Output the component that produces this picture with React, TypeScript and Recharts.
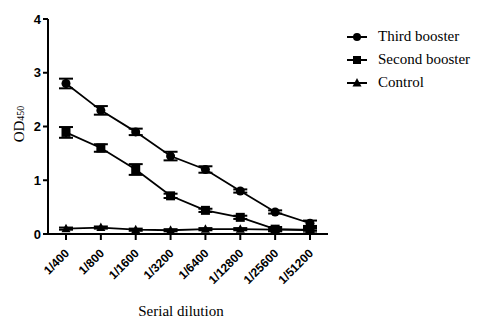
import { LineChart, Line, XAxis, YAxis, ErrorBar, Label } from "recharts"

// values
const dilutions = ["1/400", "1/800", "1/1600", "1/3200", "1/6400", "1/12800", "1/25600", "1/51200"]
const thirdBooster = [2.8, 2.3, 1.9, 1.45, 1.2, 0.8, 0.41, 0.2]
const thirdErr = [0.09, 0.08, 0.06, 0.08, 0.06, 0.03, 0.03, 0.05]
const secondBooster = [1.89, 1.6, 1.2, 0.71, 0.44, 0.31, 0.09, 0.07]
const secondErr = [0.1, 0.07, 0.1, 0.04, 0.03, 0.03, 0.04, 0.06]
const control = [0.1, 0.12, 0.08, 0.07, 0.09, 0.09, 0.08, 0.08]
const controlErr = [0.02, 0.02, 0.02, 0.02, 0.02, 0.02, 0.02, 0.02]
const yTicks = [0, 1, 2, 3, 4]

const data = dilutions.map((d, i) => ({
  dilution: d,
  third: thirdBooster[i],
  thirdErr: thirdErr[i],
  second: secondBooster[i],
  secondErr: secondErr[i],
  control: control[i],
  controlErr: controlErr[i],
}))

const sans = "'Liberation Sans', Arial, sans-serif"
const serif = "'Liberation Serif', 'Times New Roman', serif"

const CircleDot = (p: any) => <circle key={p.index} cx={p.cx} cy={p.cy} r={4.5} fill="#000" />
const SquareDot = (p: any) => <rect key={p.index} x={p.cx - 4.5} y={p.cy - 4.5} width={9} height={9} fill="#000" />
const TriangleDot = (p: any) => (
  <polygon key={p.index} points={`${p.cx},${p.cy - 5} ${p.cx - 4.5},${p.cy + 3.5} ${p.cx + 4.5},${p.cy + 3.5}`} fill="#000" />
)

const XTick = ({ x, y, payload }: any) => {
  const tx = x + 4
  const ty = y + 12
  return (
    <text x={tx} y={ty} transform={`rotate(-45 ${tx} ${ty})`} textAnchor="end" fontFamily={sans} fontWeight="bold" fontSize={12} fill="#000">
      {payload.value}
    </text>
  )
}

const YLabel = () => (
  <text x={24} y={124} transform="rotate(-90 24 124)" textAnchor="middle" fontFamily={serif} fontSize={15} fill="#000">
    OD<tspan fontSize={10}>450</tspan>
  </text>
)

const XLabel = () => (
  <text x={181} y={316} textAnchor="middle" fontFamily={serif} fontSize={15} fill="#000">
    Serial dilution
  </text>
)

const legendItems = [
  { name: "Third booster", shape: "circle" },
  { name: "Second booster", shape: "square" },
  { name: "Control", shape: "triangle" },
]

function LegendMarker({ shape }: { shape: string }) {
  return (
    <svg width={22} height={12} style={{ marginRight: 10 }}>
      <line x1={1} y1={6} x2={21} y2={6} stroke="#000" strokeWidth={2} />
      {shape === "circle" && <circle cx={11} cy={6} r={4} fill="#000" />}
      {shape === "square" && <rect x={7} y={2} width={8} height={8} fill="#000" />}
      {shape === "triangle" && <polygon points="11,1 6.5,9.5 15.5,9.5" fill="#000" />}
    </svg>
  )
}

export default function App() {
  return (
    <div style={{ position: "absolute", left: 0, top: 0, width: 478, height: 322, background: "#fff" }}>
      <LineChart width={478} height={322} data={data} margin={{ top: 19, right: 150, bottom: 28, left: 0 }}>
        <XAxis
          dataKey="dilution"
          height={60}
          padding={{ left: 18, right: 18 }}
          interval={0}
          axisLine={{ stroke: "#000", strokeWidth: 2 }}
          tickLine={{ stroke: "#000", strokeWidth: 2 }}
          tickSize={6}
          tick={<XTick />}
        >
          <Label content={<XLabel />} />
        </XAxis>
        <YAxis
          width={48}
          domain={[0, 4]}
          ticks={yTicks}
          allowDecimals={false}
          axisLine={{ stroke: "#000", strokeWidth: 2 }}
          tickLine={{ stroke: "#000", strokeWidth: 2 }}
          tickSize={5}
          tick={{ fill: "#000", fontFamily: sans, fontWeight: "bold", fontSize: 13 }}
        >
          <Label content={<YLabel />} />
        </YAxis>
        <Line dataKey="third" stroke="#000" strokeWidth={1.8} dot={CircleDot} isAnimationActive={false}>
          <ErrorBar dataKey="thirdErr" direction="y" width={7} stroke="#000" strokeWidth={2} />
        </Line>
        <Line dataKey="second" stroke="#000" strokeWidth={1.8} dot={SquareDot} isAnimationActive={false}>
          <ErrorBar dataKey="secondErr" direction="y" width={7} stroke="#000" strokeWidth={2} />
        </Line>
        <Line dataKey="control" stroke="#000" strokeWidth={1.8} dot={TriangleDot} isAnimationActive={false}>
          <ErrorBar dataKey="controlErr" direction="y" width={7} stroke="#000" strokeWidth={2} />
        </Line>
      </LineChart>
      <div style={{ position: "absolute", left: 346, top: 25, fontFamily: serif, fontSize: 15, color: "#000" }}>
        {legendItems.map((it) => (
          <div key={it.name} style={{ display: "flex", alignItems: "center", height: 23 }}>
            <LegendMarker shape={it.shape} />
            <span>{it.name}</span>
          </div>
        ))}
      </div>
    </div>
  )
}
